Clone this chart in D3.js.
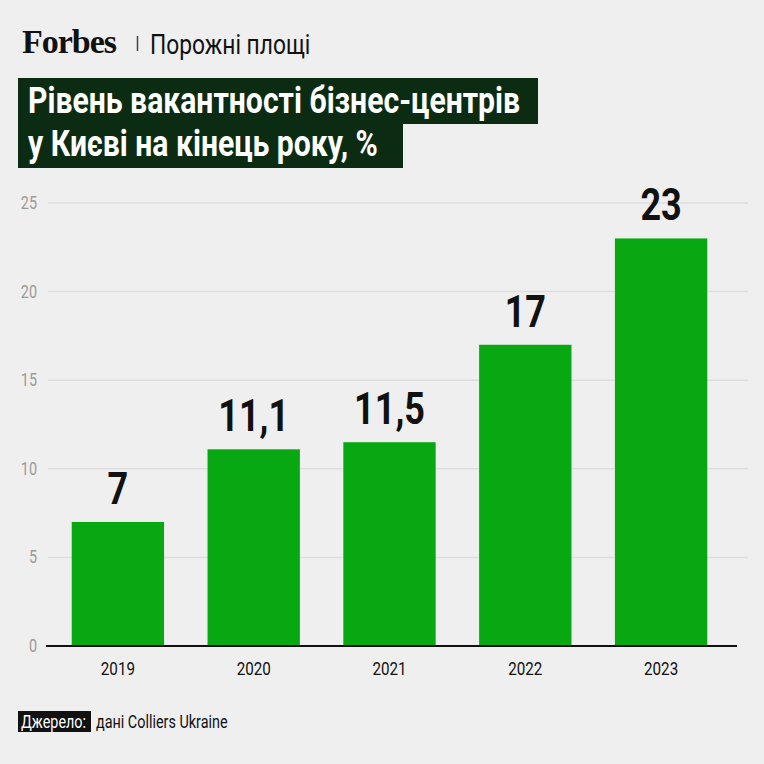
<!DOCTYPE html>
<html>
<head>
<meta charset="utf-8">
<script src="https://cdn.jsdelivr.net/npm/d3@7"></script>
<style>
  body { margin: 0; background: #efefef; }
  svg { display: block; }
</style>
</head>
<body>
<div id="container"></div>
<script>
// Chart data
const years = ["2019", "2020", "2021", "2022", "2023"];
const vacancy = [7, 11.1, 11.5, 17, 23];
const valueLabels = ["7", "11,1", "11,5", "17", "23"];
const yTicks = [0, 5, 10, 15, 20, 25];

const width = 764;
const height = 764;
const cond = 0.8; // horizontal squeeze to fake a condensed face

const svg = d3.select('#container')
  .append('svg')
  .attr('width', width)
  .attr('height', height);

svg.append('rect')
  .attr('width', width)
  .attr('height', height)
  .attr('fill', '#efefef');

// condensed text helper
function ctext(g, x, y, str, size, weight, fill, anchor) {
  return g.append('text')
    .attr('transform', 'translate(' + x + ',' + y + ') scale(' + cond + ',1)')
    .attr('text-anchor', anchor || 'start')
    .style('font-family', 'Roboto, sans-serif')
    .style('font-size', size + 'px')
    .style('font-weight', weight)
    .attr('fill', fill)
    .text(str);
}

// Header
svg.append('text')
  .attr('x', 22)
  .attr('y', 53)
  .style('font-family', '"Liberation Serif", serif')
  .style('font-size', '34px')
  .style('font-weight', 'bold')
  .style('letter-spacing', '-1px')
  .attr('fill', '#111')
  .text('Forbes');

svg.append('line')
  .attr('x1', 137.5).attr('x2', 137.5)
  .attr('y1', 36).attr('y2', 51)
  .attr('stroke', '#444')
  .attr('stroke-width', 1.5);

ctext(svg, 150, 54, 'Порожні площі', 28.5, 400, '#111');

// Title blocks
svg.append('rect')
  .attr('x', 18).attr('y', 78)
  .attr('width', 520).attr('height', 46)
  .attr('fill', '#0b2c12');
svg.append('rect')
  .attr('x', 18).attr('y', 122)
  .attr('width', 385).attr('height', 46)
  .attr('fill', '#0b2c12');

ctext(svg, 28, 113, 'Рівень вакантності бізнес-центрів', 37.7, 700, '#fff');
ctext(svg, 28, 156, 'у Києві на кінець року, %', 37.7, 700, '#fff');

// Scales
const x = d3.scaleBand()
  .domain(years)
  .range([50, 729])
  .paddingInner(0.32)
  .paddingOuter(0.16);

const y = d3.scaleLinear()
  .domain([0, 25])
  .range([646, 203]);

// Gridlines
svg.append('g')
  .selectAll('line')
  .data(yTicks.filter(d => d > 0))
  .enter()
  .append('line')
  .attr('x1', 48)
  .attr('x2', 748)
  .attr('y1', d => y(d))
  .attr('y2', d => y(d))
  .attr('stroke', '#dedede')
  .attr('stroke-width', 1.5);

// Y tick labels
const yLab = svg.append('g');
yTicks.forEach(t => {
  ctext(yLab, 37, y(t) + 6, String(t), 18, 400, '#9a9a9a', 'end');
});

// Bars
svg.append('g')
  .selectAll('rect')
  .data(vacancy)
  .enter()
  .append('rect')
  .attr('x', (d, i) => x(years[i]))
  .attr('y', d => y(d))
  .attr('width', x.bandwidth())
  .attr('height', d => y(0) - y(d))
  .attr('fill', '#07a811');

// Baseline axis
svg.append('line')
  .attr('x1', 46).attr('x2', 737)
  .attr('y1', y(0)).attr('y2', y(0))
  .attr('stroke', '#111')
  .attr('stroke-width', 2);

// Value labels
const vLab = svg.append('g');
vacancy.forEach((d, i) => {
  ctext(vLab, x(years[i]) + x.bandwidth() / 2, y(d) - 18, valueLabels[i], 45, 700, '#111', 'middle');
});

// X labels
const xLab = svg.append('g');
years.forEach(yr => {
  ctext(xLab, x(yr) + x.bandwidth() / 2, 675, yr, 19, 400, '#111', 'middle');
});

// Source
svg.append('rect')
  .attr('x', 18).attr('y', 711)
  .attr('width', 73).attr('height', 21)
  .attr('fill', '#111');
ctext(svg, 21, 728, 'Джерело:', 18, 400, '#fff');
ctext(svg, 96, 728, 'дані Colliers Ukraine', 18, 400, '#111');
</script>
</body>
</html>
